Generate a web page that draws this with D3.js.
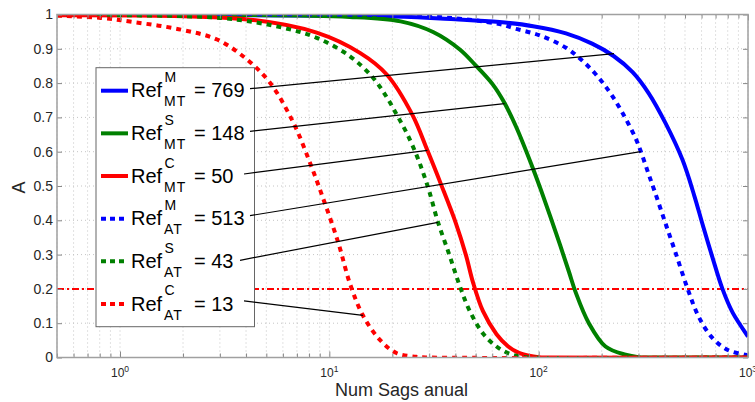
<!DOCTYPE html>
<html>
<head>
<meta charset="utf-8">
<script src="https://cdn.jsdelivr.net/npm/d3@7"></script>
<style>
body { margin: 0; background: #fff; }
text { font-family: "Liberation Sans", Arial, Helvetica, sans-serif; }
</style>
</head>
<body>
<svg id="chart" width="755" height="402"></svg>
<script>
// values: [Num Sags anual, A]
var blueMT = [[0.5, 0.999], [20, 0.994], [40, 0.986], [65, 0.978], [94, 0.966], [135, 0.945], [180, 0.915],
    [228, 0.879], [281, 0.832], [335, 0.771], [403, 0.684], [486, 0.577], [555, 0.47], [604, 0.392],
    [674, 0.295], [755, 0.2], [846, 0.13], [1000, 0.061]];
var greenMT = [[0.5, 0.999], [12.5, 0.993], [21.9, 0.98], [31.3, 0.949], [42, 0.898], [50.1, 0.851],
    [60.2, 0.797], [68.7, 0.742], [78.1, 0.672], [93.8, 0.552], [103, 0.485], [120.7, 0.365], [139.5, 0.25],
    [149.8, 0.192], [173.7, 0.1], [208.6, 0.032], [260, 0.008], [300, 0.001], [340, 0], [1000, 0]];
var redMT = [[0.5, 0.998], [4.18, 0.985], [8.7, 0.947], [14, 0.888], [18.8, 0.825], [24.9, 0.708],
    [29.4, 0.604], [34.2, 0.504], [40.2, 0.392], [45, 0.297], [48.4, 0.222], [54.2, 0.135], [62.9, 0.068],
    [71.3, 0.033], [80, 0.014], [90, 0.005], [100, 0.001], [110, 0], [1000, 0]];
var blueAT = [[0.5, 0.999], [30, 0.994], [65, 0.972], [78.1, 0.958], [100.2, 0.94], [135, 0.903],
    [162.5, 0.864], [194, 0.815], [225, 0.762], [260, 0.697], [291, 0.638], [307, 0.602], [335, 0.535],
    [356, 0.489], [403, 0.392], [451, 0.305], [515, 0.2], [580, 0.12], [674, 0.058], [801, 0.022],
    [970, 0.008], [1000, 0.006]];
var greenAT = [[0.5, 0.998], [3, 0.99], [6.04, 0.961], [8.7, 0.932], [12.55, 0.878], [16.2, 0.815],
    [18.75, 0.76], [20.9, 0.71], [23.4, 0.655], [26.1, 0.59], [28, 0.54], [30, 0.485], [32.9, 0.398],
    [37.4, 0.3], [41.9, 0.21], [46.9, 0.135], [54.2, 0.07], [62.9, 0.032], [71.3, 0.013], [80, 0.004],
    [90, 0], [1000, 0]];
var redAT = [[0.5, 0.997], [0.81, 0.99], [1.16, 0.978], [1.95, 0.956], [2.91, 0.927], [4.04, 0.869],
    [5.22, 0.8], [6.74, 0.684], [8.09, 0.567], [9.2, 0.475], [11.04, 0.334], [12.55, 0.215], [14.46, 0.123],
    [17.4, 0.052], [20.9, 0.013], [26, 0.002], [30, 0], [1000, 0]];

var refSup = ["M", "S", "C", "M", "S", "C"];
var refSub = ["MT", "MT", "MT", "AT", "AT", "AT"];
var refValues = [769, 148, 50, 513, 43, 13];
var colors = ["#0000ff", "#008000", "#ff0000", "#0000ff", "#008000", "#ff0000"];
var dotted = [false, false, false, true, true, true];
// points on each curve where the pointer lines end
var pointerEnds = [[229, 0.886], [68.7, 0.74], [29.4, 0.604], [307, 0.6], [33, 0.394], [14.47, 0.123]];
var threshold = 0.2;

var yTicks = [0, 0.1, 0.2, 0.3, 0.4, 0.5, 0.6, 0.7, 0.8, 0.9, 1];
var xExponents = [0, 1, 2, 3];

var curves = [blueMT, greenMT, redMT, blueAT, greenAT, redAT];

var svg = d3.select("#chart"),
    plotL = 57, plotR = 748, plotT = 14.5, plotB = 357.5;

var x = d3.scaleLog().domain([0.5, 1000]).range([plotL, plotR]);
var y = d3.scaleLinear().domain([0, 1]).range([plotB, plotT]);

var xMajor = xExponents.map(function(e) { return Math.pow(10, e); });
var xMinor = [];
[0.1, 1, 10, 100].forEach(function(d) {
    for (var k = 2; k < 10; k++) {
        var v = +(d * k).toPrecision(3);
        if (v >= 0.5 && v <= 1000) xMinor.push(v);
    }
});

svg.append("defs").append("clipPath").attr("id", "plotclip")
    .append("rect")
    .attr("x", plotL).attr("y", plotT)
    .attr("width", plotR - plotL).attr("height", plotB - plotT);

// grid
var grid = svg.append("g")
    .attr("stroke", "#c4c4c4")
    .attr("stroke-width", 1)
    .attr("stroke-dasharray", "1,3");
grid.selectAll(".gx").data(xMajor.concat(xMinor)).enter().append("line")
    .attr("x1", function(d) { return x(d); })
    .attr("x2", function(d) { return x(d); })
    .attr("y1", plotT).attr("y2", plotB);
grid.selectAll(".gy").data(yTicks).enter().append("line")
    .attr("x1", plotL).attr("x2", plotR)
    .attr("y1", function(d) { return y(d); })
    .attr("y2", function(d) { return y(d); });

// threshold line
svg.append("line")
    .attr("x1", plotL).attr("x2", plotR)
    .attr("y1", y(threshold)).attr("y2", y(threshold))
    .attr("stroke", "#ff0000")
    .attr("stroke-width", 2)
    .attr("stroke-dasharray", "7,3,2,3");

var line = d3.line()
    .x(function(d) { return x(d[0]); })
    .y(function(d) { return y(d[1]); })
    .curve(d3.curveCatmullRom.alpha(0.5));

svg.append("g").attr("clip-path", "url(#plotclip)")
    .selectAll("path").data(curves).enter().append("path")
    .attr("d", line)
    .attr("fill", "none")
    .attr("stroke", function(d, i) { return colors[i]; })
    .attr("stroke-width", 4)
    .attr("stroke-dasharray", function(d, i) { return dotted[i] ? "5,5" : null; });

// axes (ticks pointing inwards)
function clean(g) { g.select(".domain").remove(); g.selectAll(".tick line").attr("stroke", "#888"); }

svg.append("g").attr("transform", "translate(0," + plotB + ")")
    .call(d3.axisBottom(x).tickValues(xMajor).tickSizeInner(-6).tickSizeOuter(0).tickFormat(""))
    .call(clean);
svg.append("g").attr("transform", "translate(0," + plotB + ")")
    .call(d3.axisBottom(x).tickValues(xMinor).tickSizeInner(-4).tickSizeOuter(0).tickFormat(""))
    .call(clean);
svg.append("g").attr("transform", "translate(0," + plotT + ")")
    .call(d3.axisTop(x).tickValues(xMajor).tickSizeInner(-6).tickSizeOuter(0).tickFormat(""))
    .call(clean);
svg.append("g").attr("transform", "translate(0," + plotT + ")")
    .call(d3.axisTop(x).tickValues(xMinor).tickSizeInner(-4).tickSizeOuter(0).tickFormat(""))
    .call(clean);
svg.append("g").attr("transform", "translate(" + plotR + ",0)")
    .call(d3.axisRight(y).tickValues(yTicks).tickSizeInner(-5).tickSizeOuter(0).tickFormat(""))
    .call(clean);

var yAxis = svg.append("g").attr("transform", "translate(" + plotL + ",0)")
    .call(d3.axisLeft(y).tickValues(yTicks).tickSizeInner(-5).tickSizeOuter(0).tickPadding(4)
        .tickFormat(d3.format("~g")))
    .call(clean);
yAxis.selectAll("text")
    .attr("font-family", "Liberation Sans, Arial, sans-serif")
    .attr("font-size", "14px")
    .attr("fill", "#262626");

svg.append("rect")
    .attr("x", plotL).attr("y", plotT)
    .attr("width", plotR - plotL).attr("height", plotB - plotT)
    .attr("fill", "none")
    .attr("stroke", "#a0a0a0")
    .attr("stroke-width", 1.5);

// x tick labels 10^k
var xl = svg.append("g").selectAll("text").data(xExponents).enter().append("text")
    .attr("x", function(d) { return x(Math.pow(10, d)); })
    .attr("y", 377)
    .attr("text-anchor", "middle")
    .attr("font-size", "12px")
    .attr("fill", "#262626");
xl.append("tspan").text("10");
xl.append("tspan").attr("dy", -5).attr("font-size", "8.5px").text(function(d) { return d; });

svg.append("text")
    .attr("x", (plotL + plotR) / 2 - 1)
    .attr("y", 396)
    .attr("text-anchor", "middle")
    .attr("font-size", "18px")
    .attr("fill", "#262626")
    .text("Num Sags anual");

svg.append("text")
    .attr("transform", "translate(25,187.5) rotate(-90)")
    .attr("text-anchor", "middle")
    .attr("font-size", "18px")
    .attr("fill", "#262626")
    .text("A");

// legend
var lgX = 96, lgY = 67.7, lgW = 158.5, lgH = 259, rowGap = 42.65;
svg.append("rect")
    .attr("x", lgX).attr("y", lgY)
    .attr("width", lgW).attr("height", lgH)
    .attr("fill", "#fff")
    .attr("stroke", "#666")
    .attr("stroke-width", 1);

var rows = svg.append("g").selectAll("g").data(refValues).enter().append("g")
    .attr("transform", function(d, i) { return "translate(0," + (lgY + 23 + i * rowGap) + ")"; });
rows.append("line")
    .attr("x1", 101).attr("x2", 128)
    .attr("stroke", function(d, i) { return colors[i]; })
    .attr("stroke-width", 4)
    .attr("stroke-dasharray", function(d, i) { return dotted[i] ? "5,4" : null; });
rows.append("text")
    .attr("x", 131).attr("y", 6.6)
    .attr("font-size", "20px")
    .text("Ref");
rows.append("text")
    .attr("x", 164.5).attr("y", -8.5)
    .attr("font-size", "14px")
    .text(function(d, i) { return refSup[i]; });
rows.append("text")
    .attr("x", 164).attr("y", 15.6)
    .attr("font-size", "14px")
    .attr("letter-spacing", "1px")
    .text(function(d, i) { return refSub[i]; });
rows.append("text")
    .attr("x", 194).attr("y", 6.6)
    .attr("font-size", "20px")
    .text(function(d) { return "= " + d; });

// pointer lines from legend entries to curves
var pointerStartX = [250, 250, 244, 250, 240, 244];
var pointerStartDy = [-2, -2, -2, -3, -1, -3];
svg.append("g").selectAll("line").data(pointerEnds).enter().append("line")
    .attr("x1", function(d, i) { return pointerStartX[i]; })
    .attr("y1", function(d, i) { return lgY + 23 + i * rowGap + pointerStartDy[i]; })
    .attr("x2", function(d) { return x(d[0]); })
    .attr("y2", function(d) { return y(d[1]); })
    .attr("stroke", "#000")
    .attr("stroke-width", 1.2);
</script>
</body>
</html>
